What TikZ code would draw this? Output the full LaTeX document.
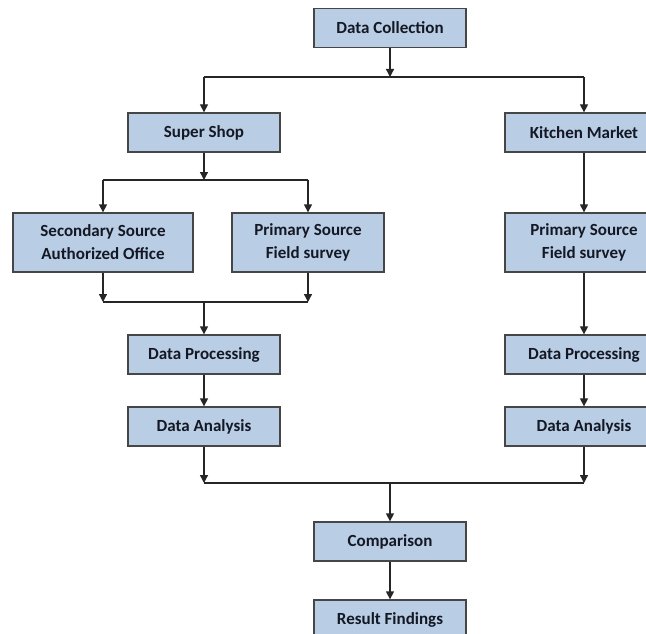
\documentclass[tikz,border=0pt]{standalone}
\usepackage{fontspec}
\setmainfont{Carlito}
\usetikzlibrary{arrows.meta}
\definecolor{boxfill}{RGB}{185,205,229}
\definecolor{boxline}{RGB}{70,70,70}
\definecolor{txt}{RGB}{20,24,36}
\begin{document}
\begin{tikzpicture}[x=1pt,y=-1pt,
  stepbox/.style={draw=boxline,line width=1.3pt,fill=boxfill,minimum width=152pt,minimum height=39pt,
    inner sep=0pt,align=center,text=txt,font=\fontsize{17}{23}\selectfont\bfseries},
  conn/.style={line width=1.3pt,draw=black!85},
  arr/.style={conn,-{Triangle[width=8pt,length=8pt]}}]
\useasboundingbox (0,0) rectangle (646,634);
\clip (0,0) rectangle (646,634);
\fill[white] (0,0) rectangle (646,634);
% nodes
\node[stepbox] (dc) at (390,28) {Data Collection};
\node[stepbox] (ss) at (204,132.5) {Super Shop};
\node[stepbox,minimum width=158pt] (km) at (584,132.5) {Kitchen Market};
\node[stepbox,minimum width=180pt,minimum height=59pt] (sec) at (103,242.5) {Secondary Source\\Authorized Office};
\node[stepbox,minimum height=59pt] (pl) at (308,242.5) {Primary Source\\Field survey};
\node[stepbox,minimum width=158pt,minimum height=59pt] (pr) at (584,242.5) {Primary Source\\Field survey};
\node[stepbox] (dpl) at (204,354.5) {Data Processing};
\node[stepbox,minimum width=158pt] (dpr) at (584,354.5) {Data Processing};
\node[stepbox] (dal) at (204,426.5) {Data Analysis};
\node[stepbox,minimum width=158pt] (dar) at (584,426.5) {Data Analysis};
\node[stepbox] (cmp) at (390,541.5) {Comparison};
\node[stepbox] (rf) at (390,619.5) {Result Findings};
% junction coordinates
\coordinate (j1) at (390,77);
\coordinate (j2) at (204,180);
\coordinate (j3) at (204,302);
\coordinate (j4) at (390,483);
% connectors
\draw[arr] (dc.south) -- (j1);
\draw[conn] (j1 -| ss.north) -- (j1 -| km.north);
\draw[arr] (j1 -| ss.north) -- (ss.north);
\draw[arr] (j1 -| km.north) -- (km.north);
\draw[arr] (ss.south) -- (j2);
\draw[conn] (j2 -| sec.north) -- (j2 -| pl.north);
\draw[arr] (j2 -| sec.north) -- (sec.north);
\draw[arr] (j2 -| pl.north) -- (pl.north);
\draw[arr] (sec.south) -- (j3 -| sec.south);
\draw[arr] (pl.south) -- (j3 -| pl.south);
\draw[conn] (j3 -| sec.south) -- (j3 -| pl.south);
\draw[arr] (j3) -- (dpl.north);
\draw[arr] (dpl.south) -- (dal.north);
\draw[arr] (km.south) -- (pr.north);
\draw[arr] (pr.south) -- (dpr.north);
\draw[arr] (dpr.south) -- (dar.north);
\draw[arr] (dal.south) -- (j4 -| dal.south);
\draw[arr] (dar.south) -- (j4 -| dar.south);
\draw[conn] (j4 -| dal.south) -- (j4 -| dar.south);
\draw[arr] (j4) -- (cmp.north);
\draw[arr] (cmp.south) -- (rf.north);
\end{tikzpicture}
\end{document}
